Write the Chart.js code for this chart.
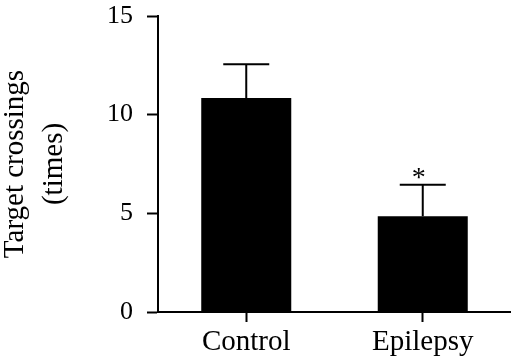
<!doctype html>
<html lang="en">
<head>
<meta charset="utf-8">
<title>Target crossings</title>
<script src="https://cdn.jsdelivr.net/npm/chart.js@4.4.0/dist/chart.umd.min.js"></script>
<style>
    html, body { margin: 0; padding: 0; background: #fff; }
    #wrap { width: 511px; height: 362px; }
</style>
</head>
<body>
<div id="wrap"><canvas id="chart"></canvas></div>
<script>
var groups = ['Control', 'Epilepsy'];
var means = [10.85, 4.85];
var sems = [1.7, 1.6];
var marks = ['', '*'];
var yTicks = [0, 5, 10, 15];

var serif = "'Liberation Serif', 'DejaVu Serif', serif";

// draws the upper error bar and the significance star
var errorBars = {
    id: 'errorBars',
    afterDatasetsDraw: function(chart) {
        var ctx = chart.ctx;
        var x = chart.scales.x, y = chart.scales.y;
        ctx.save();
        ctx.strokeStyle = '#000';
        ctx.lineWidth = 2;
        for (var i = 0; i < groups.length; i++) {
            var cx = x.getPixelForValue(i);
            var top = y.getPixelForValue(means[i]);
            var hi = y.getPixelForValue(means[i] + sems[i]);
            ctx.beginPath();
            ctx.moveTo(cx, top);
            ctx.lineTo(cx, hi);
            ctx.moveTo(cx - 23, hi);
            ctx.lineTo(cx + 23, hi);
            ctx.stroke();
            if (marks[i]) {
                ctx.fillStyle = '#000';
                ctx.font = '28px ' + serif;
                ctx.textAlign = 'center';
                ctx.textBaseline = 'alphabetic';
                ctx.fillText(marks[i], cx - 4, hi + 1);
            }
        }
        ctx.restore();
    }
};

new Chart(document.getElementById('chart'), {
    type: 'bar',
    data: {
        labels: groups,
        datasets: [{
            data: means,
            backgroundColor: '#000',
            borderWidth: 0,
            categoryPercentage: 1,
            barPercentage: 0.51
        }]
    },
    options: {
        responsive: true,
        maintainAspectRatio: false,
        animation: false,
        layout: { padding: { top: 16, right: 0, left: 0, bottom: 0 } },
        plugins: { legend: { display: false }, tooltip: { enabled: false } },
        scales: {
            x: {
                grid: { display: true, drawOnChartArea: false, offset: false, tickLength: 10, tickWidth: 2, color: '#000' },
                border: { color: '#000', width: 2 },
                ticks: { color: '#000', padding: 3, font: { family: serif, size: 29 } },
                afterFit: function(s) { s.height = 50; s.paddingLeft = 0; s.paddingRight = 0; }
            },
            y: {
                min: 0,
                max: 15,
                afterBuildTicks: function(s) { s.ticks = yTicks.map(function(v) { return { value: v }; }); },
                grid: { display: true, drawOnChartArea: false, tickLength: 11, tickWidth: 2, color: '#000' },
                border: { color: '#000', width: 2 },
                ticks: { color: '#000', padding: 14, font: { family: serif, size: 26 } },
                title: {
                    display: true,
                    text: ['Target crossings', '(times)'],
                    color: '#000',
                    font: { family: serif, size: 29, lineHeight: 1.35 },
                    padding: { top: -4, bottom: 0 }
                },
                afterFit: function(s) { s.width = 158; s.paddingTop = 0; s.paddingBottom = 0; }
            }
        }
    },
    plugins: [errorBars]
});
</script>
</body>
</html>
